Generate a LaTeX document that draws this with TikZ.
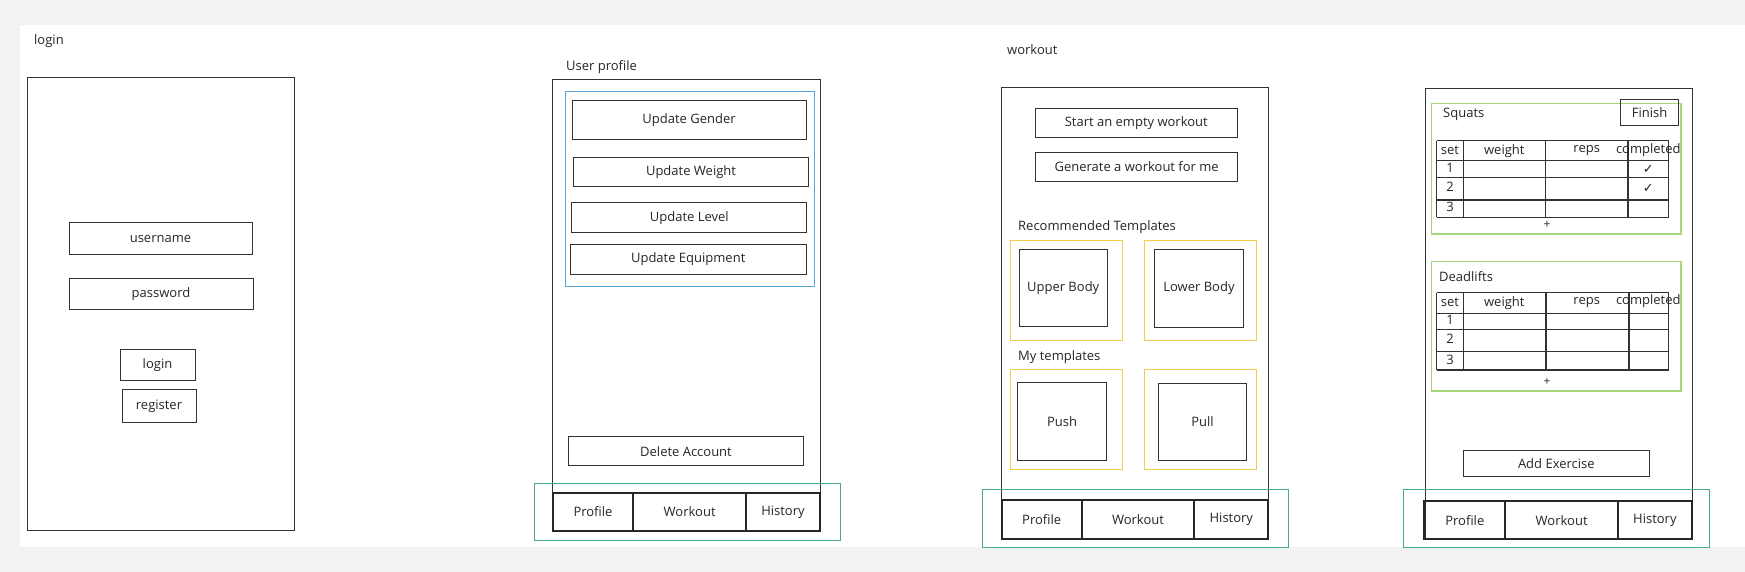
\documentclass[tikz,border=0pt]{standalone}
\usepackage{fontspec}
\setmainfont{Open Sans}
\newfontfamily\symfont{DejaVu Sans}
\usetikzlibrary{positioning}
\definecolor{inkgray}{HTML}{333333}
\definecolor{canvasgray}{HTML}{F2F2F2}
\definecolor{groupblue}{HTML}{5AA7DF}
\definecolor{groupteal}{HTML}{45AA95}
\definecolor{groupyellow}{HTML}{F5CD4E}
\definecolor{groupgreen}{HTML}{A6D77A}

\begin{document}
\begin{tikzpicture}[x = 1pt, y = -1pt, font = \fontsize{13}{15}\selectfont]
	% Custom styles for the wireframe boxes
	\tikzset{
		screen/.style = {draw = inkgray, line width = 1pt},
		btn/.style = {draw = inkgray, line width = 1pt, inner sep = 0pt, text = black!85},
		tab/.style = {draw = black!85, line width = 1.8pt, inner sep = 0pt, outer sep = 0pt, text = black!85},
		label/.style = {anchor = west, inner sep = 0pt, text = black!85},
		cell/.style = {inner sep = 0pt, text height = 9.5pt, text depth = 3pt, text = black!85},
		group/.style = {line width = 1.2pt}
	}

	% Draw the canvas
	\fill[canvasgray] (0, 0) rectangle (1745, 572);
	\fill[white] (20, 25) rectangle (1745, 547);
	\useasboundingbox (0, 0) rectangle (1745, 572);

	% Login screen
	\node[label] (loginTitle) at (34, 41) {login};
	\draw[screen] (27, 78) rectangle (294, 530);
	\node[btn, minimum width = 183pt, minimum height = 32pt] (username) at (160.5, 238.6) {username};
	\node[btn, minimum width = 184pt, minimum height = 31pt] (password) at (161, 294) {password};
	\node[btn, minimum width = 75pt, minimum height = 30.5pt] (loginBtn) at (157.5, 364.8) {login};
	\node[btn, minimum width = 74pt, minimum height = 33pt] (registerBtn) at (159, 406) {register};

	% User profile screen
	\node[label] (profileTitle) at (566, 67) {User profile};
	\draw[screen] (552.7, 80) rectangle (820, 531);
	\draw[group, groupblue] (565.3, 91.7) rectangle (814.3, 286.7);
	\node[btn, minimum width = 234pt, minimum height = 38.6pt] (gender) at (689, 120) {Update Gender};
	\node[btn, minimum width = 235pt, minimum height = 29.3pt] (weight) at (691, 171.7) {Update Weight};
	\node[btn, minimum width = 235pt, minimum height = 29.7pt] (level) at (689.3, 217.8) {Update Level};
	\node[btn, minimum width = 236pt, minimum height = 30pt] (equipment) at (688.2, 259.3) {Update Equipment};
	\node[btn, minimum width = 235.4pt, minimum height = 29.3pt] (deleteAcc) at (686, 451.3) {Delete Account};
	\draw[group, groupteal] (534.3, 483.3) rectangle (840.3, 540.7);
	\coordinate (T1) at (552.7, 492.7);
	\node[tab, anchor = north west, minimum width = 80.6pt, minimum height = 38.3pt] (profA) at (T1) {Profile};
	\node[tab, right = 0pt of profA, minimum width = 112.7pt, minimum height = 38.3pt] (workA) {Workout};
	\node[tab, right = 0pt of workA, minimum width = 74pt, minimum height = 38.3pt] (histA) {History};

	% Workout screen
	\node[label] (workoutTitle) at (1007, 50) {workout};
	\draw[screen] (1001.7, 87.5) rectangle (1268.3, 538.8);
	\node[btn, minimum width = 202pt, minimum height = 28.7pt] (emptyWk) at (1136.3, 123.2) {Start an empty workout};
	\node[btn, minimum width = 202pt, minimum height = 28.7pt] (genWk) at (1136.7, 166.8) {Generate a workout for me};
	\node[label] (recTitle) at (1018, 227) {Recommended Templates};
	\draw[group, groupyellow] (1010.7, 240.6) rectangle (1122.3, 340.7);
	\draw[group, groupyellow] (1144.7, 240.6) rectangle (1256.7, 340.7);
	\node[btn, minimum width = 88.3pt, minimum height = 77pt] (upper) at (1063.2, 288.3) {Upper Body};
	\node[btn, minimum width = 88.6pt, minimum height = 77.8pt] (lower) at (1199, 288.6) {Lower Body};
	\node[label] (myTitle) at (1018, 357) {My templates};
	\draw[group, groupyellow] (1010.7, 369.4) rectangle (1122.3, 469.5);
	\draw[group, groupyellow] (1144.7, 369.4) rectangle (1256.7, 469.5);
	\node[btn, minimum width = 88.6pt, minimum height = 77.7pt] (push) at (1062, 421.2) {Push};
	\node[btn, minimum width = 88.4pt, minimum height = 77.4pt] (pull) at (1202.5, 422) {Pull};
	\draw[group, groupteal] (982.7, 489.8) rectangle (1288.3, 547.2);
	\coordinate (T2) at (1001.7, 500);
	\node[tab, anchor = north west, minimum width = 80pt, minimum height = 38.8pt] (profB) at (T2) {Profile};
	\node[tab, right = 0pt of profB, minimum width = 112.6pt, minimum height = 38.8pt] (workB) {Workout};
	\node[tab, right = 0pt of workB, minimum width = 74pt, minimum height = 38.8pt] (histB) {History};

	% Exercise screen
	\draw[screen] (1425, 88.3) rectangle (1692.3, 539.3);
	\draw[group, groupgreen] (1431.7, 103.3) rectangle (1681, 234);
	\node[btn, minimum width = 57.6pt, minimum height = 25.7pt] (finish) at (1649.5, 112.2) {Finish};
	\node[label] (squats) at (1443, 114) {Squats};
	\foreach \x in {1436.7, 1463.3, 1545.3, 1628, 1668.7}
		\draw[screen, line width = 1.3pt] (\x, 140.7) -- (\x, 217.3);
	\foreach \y in {140.7, 160.7, 177.3, 200, 217.3}
		\draw[screen, line width = 1.3pt] (1436.7, \y) -- (1668.7, \y);
	\node[cell] (sqSet) at (1450, 151) {set};
	\node[cell] (sqWeight) at (1504.3, 151) {weight};
	\node[cell] (sqReps) at (1586.7, 149.5) {reps};
	\node[cell] (sqDone) at (1648.3, 150) {completed};
	\node[cell] (sqOne) at (1450, 169) {1};
	\node[cell] (sqTwo) at (1450, 188.7) {2};
	\node[cell] (sqThree) at (1450, 208.7) {3};
	\node[cell] (sqCheckA) at (1648.3, 170) {\symfont ✓};
	\node[cell] (sqCheckB) at (1648.3, 189) {\symfont ✓};
	\node[cell, font = \fontsize{12}{14}\selectfont] (sqAdd) at (1547, 225) {+};

	\draw[group, groupgreen] (1431.7, 261.3) rectangle (1681, 391);
	\node[label] (deadlifts) at (1439, 277) {Deadlifts};
	\foreach \x in {1436.7, 1463.3, 1546, 1629, 1668.7}
		\draw[screen, line width = 1.3pt] (\x, 292.7) -- (\x, 370);
	\foreach \y in {292.7, 313.3, 329.3, 351.7, 370}
		\draw[screen, line width = 1.3pt] (1436.7, \y) -- (1668.7, \y);
	\node[cell] (dlSet) at (1450, 303) {set};
	\node[cell] (dlWeight) at (1504.3, 303) {weight};
	\node[cell] (dlReps) at (1586.7, 301.5) {reps};
	\node[cell] (dlDone) at (1648.3, 301) {completed};
	\node[cell] (dlOne) at (1450, 321.3) {1};
	\node[cell] (dlTwo) at (1450, 340.5) {2};
	\node[cell] (dlThree) at (1450, 360.9) {3};
	\node[cell, font = \fontsize{12}{14}\selectfont] (dlAdd) at (1547, 382) {+};

	\node[btn, minimum width = 186pt, minimum height = 25.6pt] (addEx) at (1556.3, 463.5) {Add Exercise};
	\draw[group, groupteal] (1403.3, 489.7) rectangle (1709.3, 547.3);
	\coordinate (T3) at (1424.3, 501);
	\node[tab, anchor = north west, minimum width = 81pt, minimum height = 38.3pt] (profC) at (T3) {Profile};
	\node[tab, right = 0pt of profC, minimum width = 112.7pt, minimum height = 38.3pt] (workC) {Workout};
	\node[tab, right = 0pt of workC, minimum width = 73.7pt, minimum height = 38.3pt] (histC) {History};

\end{tikzpicture}
\end{document}
